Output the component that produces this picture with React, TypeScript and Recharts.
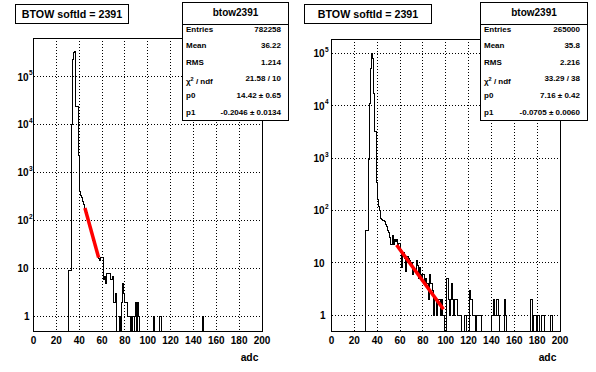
import React from 'react';
import { ComposedChart, Line, XAxis, YAxis, CartesianGrid, ReferenceArea } from 'recharts';

// two ROOT-style log histograms (adc spectra for softId 2391) with exponential fit segment

const FONT = '"Liberation Sans", Arial, Helvetica, sans-serif';
const Y_MIN = 0.5;
const N_BINS = 200;

const X_MAJOR = [0, 20, 40, 60, 80, 100, 120, 140, 160, 180, 200];
const X_MINOR = [
  5, 10, 15, 25, 30, 35, 45, 50, 55, 65, 70, 75, 85, 90, 95, 105, 110, 115, 125, 130, 135,
  145, 150, 155, 165, 170, 175, 185, 190, 195,
];
const Y_MAJOR = [1, 10, 100, 1000, 10000, 100000];
const Y_MINOR = [
  2, 3, 4, 5, 6, 7, 8, 9,
  20, 30, 40, 50, 60, 70, 80, 90,
  200, 300, 400, 500, 600, 700, 800, 900,
  2000, 3000, 4000, 5000, 6000, 7000, 8000, 9000,
  20000, 30000, 40000, 50000, 60000, 70000, 80000, 90000,
  200000, 300000, 400000, 500000, 600000,
];

// counts per 1-adc bin, starting at the given bin
const LEFT_FIRST_BIN = 31;
const LEFT_COUNTS = [
  9, 9, 10000, 230000, 330000, 340000, 24000, 24000, 2300, 400, // 31-40
  330, 300, 250, 220, 170, 150, 115, 95, 78, 62, // 41-50
  52, 38, 35, 28, 24, 19, 16, 15, 17, 17, // 51-60
  6, 7, 5, 8, 8, 8, 6, 6, 7, 2, // 61-70
  2, 3, 0, 0, 1, 0, 2, 5, 3, 2, // 71-80
  2, 1, 1, 1, 0, 1, 0, 1, 2, 0, // 81-90
  2, 1, 0, 0, 0, 0, 0, 0, 0, 0, // 91-100
  0, 0, 0, 0, 1, 0, 0, 0, 0, 1, // 101-110
  1, 0, 0, 0, 0, 0, 0, 0, 0, 0, // 111-120
  0, 0, 0, 0, 0, 0, 0, 0, 0, 0, // 121-130
  0, 0, 0, 0, 0, 0, 0, 0, 0, 0, // 131-140
  0, 0, 0, 0, 0, 0, 0, 1, // 141-148
];

const RIGHT_FIRST_BIN = 30;
const RIGHT_COUNTS = [
  42, 42, 950, 11000, 52000, 100000, 80000, 17000, 3200, 350, // 30-39
  160, 120, 100, 72, 68, 65, 62, 55, 50, 42, // 40-49
  38, 30, 22, 34, 22, 28, 26, 28, 20, 24, // 50-59
  18, 8, 14, 16, 12, 7, 13, 12, 11, 9, // 60-69
  10, 6, 8, 7, 11, 9, 5, 8, 6, 5, // 70-79
  6, 4, 5, 4, 4, 2, 6, 4, 3, 1, // 80-89
  2, 2, 1, 2, 2, 1, 2, 1, 1, 0, // 90-99
  0, 5, 2, 1, 2, 4, 2, 1, 2, 2, // 100-109
  1, 1, 1, 1, 0, 0, 1, 1, 0, 0, // 110-119
  0, 3, 2, 1, 1, 1, 0, 1, 1, 1, // 120-129
  1, 0, 0, 0, 0, 0, 0, 0, 0, 0, // 130-139
  1, 1, 2, 1, 2, 2, 1, 0, 0, 0, // 140-149
  0, 2, 1, 0, 0, 0, 0, 0, 0, 0, // 150-159
  0, 0, 0, 0, 0, 0, 0, 0, 0, 0, // 160-169
  0, 0, 0, 0, 2, 2, 0, 1, 1, 0, // 170-179
  1, 1, 0, 0, 1, 1, 0, 0, 0, 0, // 180-189
  0, 0, 1, // 190-192
];

// end points of the fitted exponential (straight on a log axis)
const LEFT_FIT = [
  { x: 45, y: 185 },
  { x: 57, y: 17 },
];
const RIGHT_FIT = [
  { x: 57, y: 22 },
  { x: 98, y: 1.3 },
];

const LEFT_STATS = [
  ['Entries', '782258'],
  ['Mean', '36.22'],
  ['RMS', '1.214'],
  ['chi', '21.58 / 10'],
  ['p0', '14.42 \u00b1 0.65'],
  ['p1', '-0.2046 \u00b1 0.0134'],
];
const RIGHT_STATS = [
  ['Entries', '265000'],
  ['Mean', '35.8'],
  ['RMS', '2.216'],
  ['chi', '33.29 / 38'],
  ['p0', '7.16 \u00b1 0.42'],
  ['p1', '-0.0705 \u00b1 0.0060'],
];

const TITLE = 'BTOW softId = 2391';
const HIST_NAME = 'btow2391';

function buildBins(first: number, counts: number[]) {
  const out: { x: number; y: number }[] = [];
  for (let i = 0; i < N_BINS; i++) {
    const c = i >= first && i < first + counts.length ? counts[i - first] : 0;
    out.push({ x: i, y: Math.max(c, Y_MIN) });
  }
  out.push({ x: N_BINS, y: out[out.length - 1].y });
  return out;
}

const LogTick = (props: any) => {
  const { x, y, payload, gap } = props;
  const v = payload.value;
  const exp = Math.round(Math.log10(v));
  const xr = x - gap;
  const common = { fontFamily: FONT, fontWeight: 'bold' as const, fill: '#000' };
  if (exp === 0) {
    return <text x={xr + 1} y={y + 3.6} textAnchor="end" fontSize={10} {...common}>1</text>;
  }
  if (exp === 1) {
    return <text x={xr} y={y + 3.6} textAnchor="end" fontSize={10} {...common}>10</text>;
  }
  return (
    <g>
      <text x={xr} y={y + 3.6} textAnchor="end" fontSize={10} {...common}>10</text>
      <text x={xr + 0.5} y={y - 1.5} textAnchor="start" fontSize={6.5} {...common}>{exp}</text>
    </g>
  );
};

type PanelProps = {
  offsetX: number;
  width: number;
  frame: { left: number; right: number; top: number; bottom: number };
  yMax: number;
  bins: { x: number; y: number }[];
  fit: { x: number; y: number }[];
  stats: string[][];
  statsBox: { left: number; width: number };
  titleBox: { left: number; width: number };
  labelGap: number;
  adcX: number;
};

function StatsBox({ left, width, rows }: { left: number; width: number; rows: string[][] }) {
  return (
    <div
      style={{
        position: 'absolute', left, top: 2, width, height: 119, boxSizing: 'border-box',
        border: '1px solid #000', background: '#fff', fontFamily: FONT, fontWeight: 'bold', color: '#000',
      }}
    >
      <div
        style={{
          position: 'absolute', left: 0, right: 0, top: 0, height: 21, borderBottom: '1px solid #000',
          textAlign: 'center', fontSize: 10, lineHeight: '20px',
        }}
      >
        {HIST_NAME}
      </div>
      {rows.map(([label, value], i) => (
        <div
          key={label}
          style={{
            position: 'absolute', left: 3, right: 7, top: 18.5 + i * 16.6, height: 16,
            lineHeight: '16px', fontSize: 8, display: 'flex', justifyContent: 'space-between',
          }}
        >
          <span>
            {label === 'chi' ? (
              <>
                {'\u03c7'}
                <sup style={{ fontSize: 5.5, verticalAlign: 3 }}>2</sup>
                {' / ndf'}
              </>
            ) : (
              label
            )}
          </span>
          <span>{value}</span>
        </div>
      ))}
    </div>
  );
}

function Panel(p: PanelProps) {
  const H = 372;
  const Y_AXIS_W = 30;
  const X_AXIS_H = 20;
  const margin = {
    top: p.frame.top,
    bottom: H - p.frame.bottom - X_AXIS_H,
    left: p.frame.left - Y_AXIS_W,
    right: p.width - p.frame.right,
  };
  return (
    <div style={{ position: 'absolute', left: p.offsetX, top: 0, width: p.width, height: H }}>
      <ComposedChart width={p.width} height={H} margin={margin}>
        {/* inward minor / major ticks, declared first so they sit on the frame */}
        <XAxis
          xAxisId="minor" type="number" dataKey="x" domain={[0, N_BINS]} ticks={X_MINOR} interval={0}
          orientation="bottom" mirror height={0} tick={false} tickSize={4} axisLine={false}
          tickLine={{ stroke: '#000', shapeRendering: 'crispEdges' }}
        />
        <XAxis
          xAxisId="major" type="number" dataKey="x" domain={[0, N_BINS]} ticks={X_MAJOR} interval={0}
          orientation="bottom" mirror height={0} tick={false} tickSize={8} axisLine={false}
          tickLine={{ stroke: '#000', shapeRendering: 'crispEdges' }}
        />
        <YAxis
          yAxisId="minor" scale="log" type="number" domain={[Y_MIN, p.yMax]} allowDataOverflow
          ticks={Y_MINOR.filter((t) => t < p.yMax)} interval={0} orientation="left" mirror width={0}
          tick={false} tickSize={4} axisLine={false} tickLine={{ stroke: '#000', shapeRendering: 'crispEdges' }}
        />
        <YAxis
          yAxisId="major" scale="log" type="number" domain={[Y_MIN, p.yMax]} allowDataOverflow
          ticks={Y_MAJOR} interval={0} orientation="left" mirror width={0}
          tick={false} tickSize={8} axisLine={false} tickLine={{ stroke: '#000', shapeRendering: 'crispEdges' }}
        />
        <XAxis
          type="number" dataKey="x" domain={[0, N_BINS]} ticks={X_MAJOR} interval={0}
          height={X_AXIS_H} tickLine={false} axisLine={false} tickSize={0} tickMargin={6}
          tick={{ fontSize: 10, fontFamily: FONT, fontWeight: 'bold', fill: '#000' }}
        />
        <YAxis
          scale="log" type="number" domain={[Y_MIN, p.yMax]} allowDataOverflow ticks={Y_MAJOR}
          interval={0} width={Y_AXIS_W} tickLine={false} axisLine={false} tickSize={0} tickMargin={0}
          tick={<LogTick gap={p.labelGap} />}
        />
        <CartesianGrid stroke="#000" strokeDasharray="1 2" shapeRendering="crispEdges" />
        <ReferenceArea
          x1={0} x2={N_BINS} y1={Y_MIN} y2={p.yMax} fill="none" fillOpacity={0}
          stroke="#000" strokeWidth={1} ifOverflow="visible" shapeRendering="crispEdges"
        />
        <Line
          data={p.bins} dataKey="y" type="stepAfter" stroke="#000" strokeWidth={1}
          dot={false} activeDot={false} isAnimationActive={false} shapeRendering="crispEdges"
        />
        <Line
          data={p.fit} dataKey="y" type="linear" stroke="#ff0000" strokeWidth={3.5}
          dot={false} activeDot={false} isAnimationActive={false}
        />
      </ComposedChart>
      <div
        style={{
          position: 'absolute', left: p.titleBox.left, top: 4, width: p.titleBox.width, height: 20,
          boxSizing: 'border-box', border: '1px solid #000', background: '#fff', textAlign: 'center',
          fontFamily: FONT, fontWeight: 'bold', fontSize: 10.7, lineHeight: '18px', color: '#000',
        }}
      >
        {TITLE}
      </div>
      <StatsBox left={p.statsBox.left} width={p.statsBox.width} rows={p.stats} />
      <div
        style={{
          position: 'absolute', left: p.adcX - 15, width: 30, top: 352, textAlign: 'center',
          fontFamily: FONT, fontWeight: 'bold', fontSize: 10.3, color: '#000',
        }}
      >
        adc
      </div>
    </div>
  );
}

export default function App() {
  const leftBins = buildBins(LEFT_FIRST_BIN, LEFT_COUNTS);
  const rightBins = buildBins(RIGHT_FIRST_BIN, RIGHT_COUNTS);
  return (
    <div style={{ position: 'absolute', left: 0, top: 0, width: 596, height: 372, background: '#fff', overflow: 'hidden' }}>
      <Panel
        offsetX={0} width={300}
        frame={{ left: 33.5, right: 262, top: 38, bottom: 331 }}
        yMax={650000} bins={leftBins} fit={LEFT_FIT} stats={LEFT_STATS}
        statsBox={{ left: 182, width: 107 }} titleBox={{ left: 15, width: 114 }}
        labelGap={5} adcX={249.5}
      />
      <Panel
        offsetX={300} width={296}
        frame={{ left: 31.5, right: 260, top: 39, bottom: 331 }}
        yMax={190000} bins={rightBins} fit={RIGHT_FIT} stats={RIGHT_STATS}
        statsBox={{ left: 180, width: 108 }} titleBox={{ left: 4, width: 128 }}
        labelGap={7} adcX={247.5}
      />
    </div>
  );
}
